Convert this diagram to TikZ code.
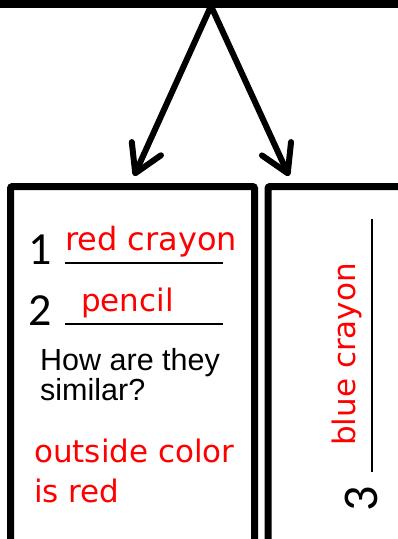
\documentclass[tikz,border=0pt]{standalone}
\usepackage{fontspec}
\usetikzlibrary{arrows.meta}
\newfontfamily\comicf{DejaVu Sans}
\newfontfamily\calibf{Carlito}
\newfontfamily\arialf{Liberation Sans}
\definecolor{penred}{RGB}{255,0,0}
\tikzset{
  frame/.style={line width=7pt, rounded corners=2pt},
  bigarrow/.style={line width=6pt, line cap=round, -{Straight Barb[length=27pt,width=32pt,line cap=round,line join=round]}},
  answer/.style={inner sep=0pt, text=penred, font=\comicf\fontsize{31}{31}\selectfont},
  digit/.style={inner sep=0pt, font=\calibf\fontsize{46}{46}\selectfont},
  question/.style={inner sep=0pt, font=\arialf\fontsize{30.5}{30.5}\selectfont},
  blank/.style={line width=1.4pt}
}
\begin{document}
\begin{tikzpicture}[x=1pt,y=-1pt]
\useasboundingbox (0,0) rectangle (398,539);
% top bar
\coordinate (barL) at (-5,4);
\coordinate (barR) at (405,4);
\draw[line width=8pt] (barL) -- (barR);
% arrows
\coordinate (apex) at (211,6);
\coordinate (tipL) at (134,176);
\coordinate (tipR) at (289,176);
\draw[bigarrow] (apex) -- (tipL);
\draw[bigarrow] (apex) -- (tipR);
% boxes
\draw[frame] (10.5,186.5) rectangle (254.5,548);
\draw[frame] (268,186.5) rectangle (410,548);
% left box content
\node[digit, anchor=base west] (d1) at (28,264) {1};
\coordinate (l1a) at (65,263);
\coordinate (l1b) at (223,263);
\draw[blank] (l1a) -- (l1b);
\node[answer, anchor=base west, font=\comicf\fontsize{32}{32}\selectfont] (a1) at (65,250) {red crayon};
\node[digit, anchor=base west] (d2) at (28,325) {2};
\coordinate (l2a) at (65,324);
\coordinate (l2b) at (223,324);
\draw[blank] (l2a) -- (l2b);
\node[answer, anchor=base west] (a2) at (81,311) {pencil};
\node[question, anchor=base west] (q1) at (40,370) {How are they};
\node[question, anchor=base west] (q2) at (40,400) {similar?};
\node[answer, anchor=base west] (s1) at (34,462) {outside color};
\node[answer, anchor=base west] (s2) at (34,502) {is red};
% right box content
\coordinate (l3a) at (372,219);
\coordinate (l3b) at (372,472);
\draw[blank] (l3a) -- (l3b);
\node[answer, anchor=base west, rotate=90] (a3) at (355,446) {blue crayon};
\node[digit, anchor=base, rotate=90, font=\calibf\fontsize{50}{50}\selectfont] (d3) at (377,499) {3};
\end{tikzpicture}
\end{document}
